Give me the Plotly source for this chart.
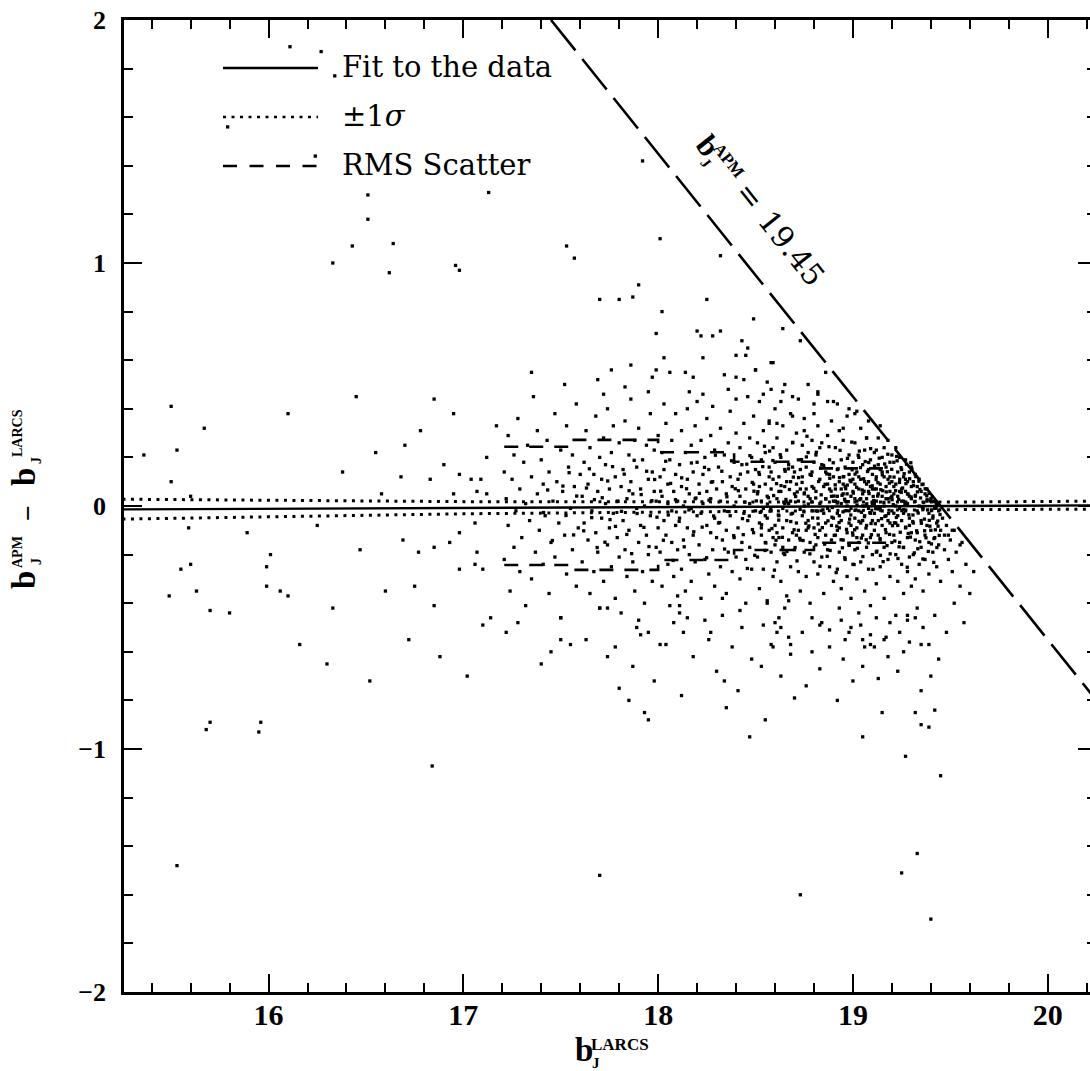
import plotly.graph_objects as go

# ---------------- data ----------------
X_RANGE = [15.258, 20.217]
Y_RANGE = [-2.0, 2.0]
x_major_ticks = [16, 17, 18, 19, 20]
y_major_ticks = [-2, -1, 0, 1, 2]

# sparse points and outliers (bJ_LARCS, bJ_APM - bJ_LARCS)
pts_outer = [
    (16.11, 1.89), (16.27, 1.87), (16.34, 1.77), (15.79, 1.56), (16.24, 1.44), (16.51, 1.28),
    (16.51, 1.18), (16.43, 1.07), (16.64, 1.08), (16.33, 1.00), (16.62, 0.96), (16.96, 0.99),
    (16.98, 0.97), (17.13, 1.29), (17.53, 1.07), (17.57, 1.02), (17.92, 1.42), (18.01, 1.10),
    (18.32, 1.03), (17.90, 0.91), (17.70, 0.85), (17.80, 0.85), (17.87, 0.86), (18.25, 0.85),
    (18.02, 0.80), (18.49, 0.77), (18.64, 0.73), (18.73, 0.68), (17.99, 0.71), (18.20, 0.72),
    (18.22, 0.70), (18.28, 0.70), (18.32, 0.72), (18.43, 0.68), (18.46, 0.65), (18.40, 0.62),
    (18.45, 0.62), (18.58, 0.59), (18.03, 0.61), (18.23, 0.61), (17.76, 0.56), (17.86, 0.58),
    (17.99, 0.56), (18.14, 0.55), (18.18, 0.53), (18.34, 0.54), (18.40, 0.53), (18.50, 0.56),
    (15.50, 0.41), (15.67, 0.32), (15.36, 0.21), (15.53, 0.23), (15.50, 0.10), (15.60, 0.04),
    (16.10, 0.38), (15.59, -0.09), (15.89, -0.11), (16.01, -0.20), (15.99, -0.25), (15.60, -0.24),
    (15.55, -0.26), (15.99, -0.33), (16.06, -0.35), (16.10, -0.37), (15.49, -0.37), (15.63, -0.35),
    (15.70, -0.43), (15.80, -0.44), (15.70, -0.89), (15.68, -0.92), (15.96, -0.89), (15.95, -0.93),
    (15.53, -1.48),
    (16.25, -0.08), (16.38, 0.14), (16.47, -0.18), (16.55, 0.22), (16.60, -0.35), (16.33, -0.42),
    (16.16, -0.57), (16.30, -0.65), (16.52, -0.72), (16.84, -1.07), (16.45, 0.45), (16.58, 0.05),
    (16.75, -0.33), (16.85, -0.41), (17.10, -0.49), (17.14, -0.46), (16.70, 0.25), (16.90, 0.17),
    (16.98, 0.13), (17.04, 0.11), (17.09, 0.11), (16.83, 0.11), (16.68, 0.12), (17.12, 0.20),
    (16.95, 0.05), (17.07, 0.06), (17.12, 0.05), (16.98, -0.11), (17.06, -0.07), (16.69, -0.14),
    (16.77, -0.19), (16.85, -0.17), (16.93, -0.15), (17.07, -0.19), (16.98, -0.26), (17.06, -0.24),
    (17.10, -0.26), (16.78, 0.31), (16.85, 0.44), (16.95, 0.38), (17.17, 0.33), (16.88, -0.62),
    (17.02, -0.70), (16.72, -0.55),
    (17.70, -1.52), (18.73, -1.60), (19.25, -1.51), (19.33, -1.43), (19.40, -1.70), (19.32, -0.85),
    (19.42, -0.84), (19.35, -0.90), (19.39, -0.91), (19.27, -1.03), (19.45, -1.11), (17.50, -0.46),
    (17.55, -0.57), (17.50, -0.55), (17.70, -0.42), (17.74, -0.42), (17.90, -0.47), (17.89, -0.50),
    (17.95, -0.52), (18.04, -0.57), (18.11, -0.41), (18.15, -0.46), (18.27, -0.52), (18.33, -0.38),
    (18.42, -0.43), (18.56, -0.40), (18.63, -0.50), (18.67, -0.39), (18.60, -0.48), (18.61, -0.52),
    (18.65, -0.42), (18.79, -0.46), (18.83, -0.49), (18.88, -0.51), (18.98, -0.52), (19.05, -0.55),
    (19.09, -0.57), (19.17, -0.54), (19.28, -0.45), (19.32, -0.46), (19.35, -0.57), (18.59, -0.58),
    (18.68, -0.57), (18.12, -0.78), (18.35, -0.83), (18.55, -0.88), (18.92, -0.80), (19.05, -0.95),
    (19.15, -0.85), (18.47, -0.95), (17.80, -0.75), (17.95, -0.88), (18.70, -0.79), (19.00, -0.72),
    (18.59, 0.59), (18.50, 0.56), (18.65, 0.50), (18.54, 0.46), (18.58, 0.48), (18.63, 0.43),
    (18.82, 0.46), (18.87, 0.43), (18.80, 0.38), (18.69, 0.37), (19.01, 0.38), (18.57, 0.34),
    (18.61, 0.34), (18.75, 0.31), (18.95, 0.32), (19.07, 0.28), (19.12, 0.23),
    (19.51, -0.10), (19.55, -0.16), (19.49, -0.12),
]

pts_172_176 = [
    (17.21, 0.14), (17.21, -0.22), (17.22, 0.03), (17.23, -0.08), (17.23, 0.29), (17.24, -0.35),
    (17.25, 0.11), (17.26, -0.17), (17.26, 0.21), (17.27, -0.02), (17.28, 0.36), (17.29, -0.27),
    (17.29, 0.07), (17.30, -0.13), (17.31, 0.18), (17.32, -0.41), (17.32, 0.01), (17.33, 0.25),
    (17.34, -0.06), (17.35, 0.12), (17.35, -0.30), (17.36, 0.45), (17.37, -0.19), (17.38, 0.05),
    (17.38, 0.31), (17.39, -0.10), (17.40, 0.19), (17.41, -0.24), (17.41, 0.09), (17.42, -0.04),
    (17.43, 0.27), (17.44, -0.36), (17.44, 0.14), (17.45, -0.15), (17.46, 0.02), (17.47, 0.38),
    (17.47, -0.21), (17.48, 0.10), (17.49, -0.07), (17.50, 0.23), (17.50, -0.46), (17.51, 0.06),
    (17.52, -0.12), (17.53, 0.33), (17.53, -0.28), (17.54, 0.16), (17.55, -0.01), (17.56, 0.21),
    (17.56, -0.18), (17.57, 0.08), (17.58, -0.33), (17.58, 0.42), (17.59, -0.09), (17.60, 0.13),
    (17.22, -0.52), (17.35, 0.55), (17.45, -0.60), (17.52, 0.50), (17.28, -0.48), (17.40, -0.65),
]

pts_176_180 = [
    (17.61, 0.04), (17.61, -0.23), (17.62, 0.18), (17.62, -0.07), (17.63, 0.31), (17.64, -0.14),
    (17.64, 0.09), (17.65, -0.36), (17.65, 0.24), (17.66, -0.02), (17.67, 0.13), (17.67, -0.27),
    (17.68, 0.37), (17.68, -0.11), (17.69, 0.06), (17.69, -0.19), (17.70, 0.20), (17.70, -0.42),
    (17.71, 0.11), (17.71, -0.05), (17.72, 0.28), (17.72, -0.31), (17.73, 0.01), (17.73, 0.17),
    (17.74, -0.16), (17.74, 0.40), (17.75, -0.09), (17.75, 0.07), (17.76, -0.25), (17.76, 0.22),
    (17.77, -0.03), (17.77, 0.33), (17.78, -0.38), (17.78, 0.12), (17.79, -0.13), (17.79, 0.02),
    (17.80, 0.26), (17.80, -0.21), (17.81, 0.08), (17.81, -0.44), (17.82, 0.15), (17.82, -0.06),
    (17.83, 0.35), (17.83, -0.18), (17.84, 0.03), (17.84, -0.29), (17.85, 0.21), (17.85, -0.10),
    (17.86, 0.10), (17.86, 0.44), (17.87, -0.23), (17.87, 0.05), (17.88, -0.35), (17.88, 0.27),
    (17.89, -0.01), (17.89, 0.16), (17.90, -0.15), (17.90, 0.32), (17.91, -0.08), (17.91, 0.07),
    (17.92, -0.27), (17.92, 0.19), (17.93, 0.00), (17.93, -0.40), (17.94, 0.25), (17.94, -0.12),
    (17.95, 0.11), (17.95, -0.20), (17.96, 0.38), (17.96, -0.04), (17.97, 0.14), (17.97, -0.31),
    (17.98, 0.06), (17.98, 0.23), (17.99, -0.17), (17.99, 0.02), (18.00, -0.09), (18.00, 0.29),
    (17.63, -0.55), (17.69, 0.52), (17.74, -0.62), (17.78, -0.58), (17.83, 0.49), (17.87, -0.66),
    (17.91, -0.53), (17.95, 0.47), (17.98, -0.72), (17.72, 0.46), (17.85, -0.80), (17.93, -0.85),
    (17.97, 0.53),
]

pts_180_185 = [
    (18.01, 0.12), (18.01, -0.19), (18.02, 0.04), (18.02, -0.33), (18.02, 0.22), (18.03, -0.06),
    (18.03, 0.15), (18.04, -0.12), (18.04, 0.34), (18.05, 0.01), (18.05, -0.24), (18.05, 0.09),
    (18.06, -0.41), (18.06, 0.19), (18.07, -0.02), (18.07, 0.27), (18.07, -0.15), (18.08, 0.06),
    (18.08, -0.29), (18.09, 0.13), (18.09, -0.08), (18.09, 0.38), (18.10, -0.18), (18.10, 0.02),
    (18.03, 0.42), (18.08, -0.48), (18.01, -0.57), (18.06, 0.55), (18.10, -0.37),
    (18.11, 0.17), (18.11, -0.05), (18.12, 0.08), (18.12, -0.26), (18.12, 0.31), (18.13, -0.14),
    (18.13, 0.00), (18.14, 0.22), (18.14, -0.35), (18.15, 0.11), (18.15, -0.09), (18.15, 0.40),
    (18.16, -0.20), (18.16, 0.05), (18.17, -0.01), (18.17, 0.25), (18.17, -0.31), (18.18, 0.14),
    (18.18, -0.12), (18.19, 0.03), (18.19, 0.33), (18.19, -0.23), (18.20, -0.04), (18.20, 0.18),
    (18.13, -0.52), (18.16, 0.47), (18.18, -0.62), (18.11, -0.44), (18.20, 0.43),
    (18.21, 0.09), (18.21, -0.16), (18.22, 0.27), (18.22, -0.03), (18.22, -0.38), (18.23, 0.13),
    (18.23, 0.01), (18.24, -0.22), (18.24, 0.20), (18.25, -0.08), (18.25, 0.36), (18.25, 0.06),
    (18.26, -0.28), (18.26, 0.15), (18.27, -0.11), (18.27, 0.03), (18.27, 0.29), (18.28, -0.18),
    (18.28, 0.10), (18.29, -0.05), (18.29, 0.23), (18.29, -0.33), (18.30, 0.07), (18.30, -0.13),
    (18.23, 0.46), (18.26, -0.55), (18.28, 0.41), (18.24, -0.47), (18.30, -0.68),
    (18.31, 0.16), (18.31, -0.07), (18.32, 0.02), (18.32, -0.25), (18.32, 0.32), (18.33, -0.14),
    (18.33, 0.10), (18.34, -0.02), (18.34, 0.21), (18.35, -0.36), (18.35, 0.05), (18.35, -0.10),
    (18.36, 0.26), (18.36, -0.19), (18.37, 0.12), (18.37, -0.04), (18.37, 0.39), (18.38, -0.27),
    (18.38, 0.08), (18.39, -0.13), (18.39, 0.18), (18.39, 0.00), (18.40, -0.21), (18.40, 0.30),
    (18.33, -0.45), (18.36, 0.48), (18.38, -0.58), (18.34, -0.72), (18.40, 0.44),
    (18.41, 0.11), (18.41, -0.09), (18.42, 0.24), (18.42, -0.30), (18.42, 0.04), (18.43, -0.15),
    (18.43, 0.17), (18.44, -0.03), (18.44, 0.34), (18.45, -0.22), (18.45, 0.07), (18.45, -0.40),
    (18.46, 0.14), (18.46, -0.06), (18.47, 0.28), (18.47, 0.01), (18.47, -0.17), (18.48, 0.20),
    (18.48, -0.26), (18.49, 0.09), (18.49, -0.11), (18.49, 0.37), (18.50, -0.02), (18.50, 0.15),
    (18.43, -0.50), (18.46, 0.45), (18.48, -0.63), (18.44, 0.52), (18.41, -0.76),
]

pts_185_189 = [
    (18.51, 0.05), (18.51, -0.21), (18.51, 0.26), (18.52, -0.07), (18.52, 0.13), (18.52, -0.34),
    (18.53, 0.02), (18.53, 0.19), (18.53, -0.12), (18.54, 0.31), (18.54, -0.01), (18.54, -0.26),
    (18.55, 0.09), (18.55, -0.15), (18.55, 0.22), (18.56, -0.05), (18.56, 0.04), (18.56, -0.39),
    (18.57, 0.16), (18.57, -0.10), (18.57, 0.35), (18.58, -0.19), (18.58, 0.07), (18.58, -0.02),
    (18.59, 0.24), (18.59, -0.29), (18.59, 0.11), (18.60, -0.08), (18.60, 0.18), (18.60, -0.16),
    (18.52, 0.43), (18.54, -0.49), (18.56, 0.51), (18.58, -0.57), (18.60, 0.40), (18.53, -0.66),
    (18.61, 0.03), (18.61, -0.23), (18.61, 0.28), (18.62, -0.04), (18.62, 0.12), (18.62, -0.13),
    (18.63, 0.20), (18.63, -0.31), (18.63, 0.06), (18.64, -0.09), (18.64, 0.33), (18.64, -0.01),
    (18.65, 0.15), (18.65, -0.20), (18.65, 0.08), (18.66, -0.37), (18.66, 0.23), (18.66, -0.06),
    (18.67, 0.01), (18.67, 0.17), (18.67, -0.14), (18.68, 0.38), (18.68, -0.25), (18.68, 0.10),
    (18.69, -0.03), (18.69, 0.26), (18.69, -0.11), (18.70, 0.05), (18.70, -0.18), (18.70, 0.14),
    (18.62, -0.46), (18.64, 0.47), (18.67, -0.54), (18.69, 0.45), (18.63, -0.70), (18.68, -0.61),
    (18.71, 0.09), (18.71, -0.07), (18.71, 0.30), (18.72, -0.27), (18.72, 0.02), (18.72, 0.19),
    (18.73, -0.14), (18.73, 0.07), (18.73, -0.35), (18.74, 0.25), (18.74, -0.04), (18.74, 0.12),
    (18.75, -0.19), (18.75, 0.00), (18.75, 0.36), (18.76, -0.10), (18.76, 0.16), (18.76, -0.29),
    (18.77, 0.04), (18.77, 0.22), (18.77, -0.06), (18.78, -0.40), (18.78, 0.13), (18.78, -0.15),
    (18.79, 0.27), (18.79, -0.02), (18.79, 0.08), (18.80, -0.23), (18.80, 0.18), (18.80, -0.09),
    (18.72, 0.44), (18.74, -0.52), (18.77, 0.50), (18.79, -0.60), (18.76, -0.74), (18.80, 0.42),
    (18.81, 0.06), (18.81, -0.16), (18.81, 0.21), (18.82, -0.05), (18.82, 0.33), (18.82, -0.28),
    (18.83, 0.11), (18.83, -0.10), (18.83, 0.01), (18.84, 0.17), (18.84, -0.21), (18.84, 0.26),
    (18.85, -0.03), (18.85, 0.08), (18.85, -0.36), (18.86, 0.14), (18.86, -0.12), (18.86, 0.03),
    (18.87, 0.29), (18.87, -0.18), (18.87, -0.01), (18.88, 0.19), (18.88, -0.25), (18.88, 0.07),
    (18.89, -0.08), (18.89, 0.35), (18.89, -0.14), (18.90, 0.12), (18.90, -0.31), (18.90, 0.02),
    (18.82, 0.47), (18.84, -0.48), (18.86, 0.55), (18.88, -0.58), (18.83, -0.67), (18.90, 0.43),
    (18.52, 0.08), (18.55, -0.04), (18.57, 0.12), (18.59, -0.13), (18.62, 0.06), (18.64, -0.17),
    (18.66, 0.10), (18.68, 0.02), (18.71, -0.12), (18.73, 0.15), (18.75, 0.05), (18.77, -0.09),
    (18.79, 0.14), (18.81, -0.02), (18.83, 0.24), (18.85, 0.16), (18.87, 0.09), (18.89, 0.04),
    (18.53, -0.09), (18.58, 0.14), (18.61, -0.11), (18.65, 0.01), (18.69, 0.16), (18.72, -0.10),
    (18.76, 0.07), (18.78, 0.03), (18.82, -0.13), (18.86, -0.07), (18.88, 0.13), (18.90, -0.05),
]

pts_189_193 = [
    (18.91, 0.07), (18.91, -0.12), (18.91, 0.24), (18.92, -0.03), (18.92, 0.15), (18.92, -0.26),
    (18.92, 0.04), (18.93, -0.09), (18.93, 0.31), (18.93, 0.10), (18.93, -0.19), (18.94, 0.01),
    (18.94, 0.19), (18.94, -0.06), (18.94, -0.34), (18.95, 0.12), (18.95, -0.14), (18.95, 0.27),
    (18.95, 0.05), (18.96, -0.02), (18.96, -0.22), (18.96, 0.16), (18.96, 0.08), (18.97, -0.11),
    (18.97, 0.37), (18.97, 0.00), (18.97, -0.29), (18.98, 0.13), (18.98, -0.07), (18.98, 0.21),
    (18.98, -0.16), (18.99, 0.04), (18.99, -0.38), (18.99, 0.10), (18.99, -0.01), (19.00, 0.18),
    (19.00, -0.12), (19.00, 0.06), (19.00, -0.24),
    (18.92, 0.42), (18.94, -0.47), (18.96, -0.55), (18.98, 0.40), (18.95, -0.63), (18.99, -0.50),
    (18.93, -0.42),
    (19.01, 0.09), (19.01, -0.05), (19.01, 0.26), (19.01, -0.18), (19.02, 0.02), (19.02, 0.14),
    (19.02, -0.30), (19.02, -0.09), (19.03, 0.20), (19.03, -0.02), (19.03, 0.07), (19.03, -0.15),
    (19.04, 0.32), (19.04, -0.07), (19.04, 0.11), (19.04, -0.23), (19.05, 0.00), (19.05, 0.17),
    (19.05, -0.12), (19.05, 0.05), (19.06, -0.35), (19.06, 0.23), (19.06, -0.04), (19.06, 0.10),
    (19.07, -0.17), (19.07, 0.03), (19.07, 0.28), (19.07, -0.08), (19.08, 0.15), (19.08, -0.26),
    (19.08, 0.06), (19.08, -0.01), (19.09, 0.19), (19.09, -0.13), (19.09, 0.08), (19.09, -0.41),
    (19.10, 0.01), (19.10, 0.13), (19.10, -0.20), (19.10, -0.06),
    (19.02, 0.39), (19.04, -0.49), (19.06, -0.58), (19.08, 0.35), (19.05, -0.66), (19.09, -0.53),
    (19.03, -0.44),
    (19.11, 0.07), (19.11, -0.10), (19.11, 0.22), (19.11, -0.03), (19.12, 0.12), (19.12, -0.19),
    (19.12, 0.02), (19.12, -0.32), (19.13, 0.17), (19.13, -0.06), (19.13, 0.28), (19.13, 0.05),
    (19.14, -0.14), (19.14, 0.09), (19.14, -0.01), (19.14, -0.25), (19.15, 0.20), (19.15, -0.08),
    (19.15, 0.04), (19.15, 0.14), (19.16, -0.17), (19.16, 0.00), (19.16, -0.38), (19.16, 0.24),
    (19.17, 0.08), (19.17, -0.11), (19.17, 0.16), (19.17, -0.04), (19.18, 0.03), (19.18, -0.22),
    (19.18, 0.11), (19.18, 0.27), (19.19, -0.07), (19.19, 0.06), (19.19, -0.29), (19.19, 0.18),
    (19.20, -0.02), (19.20, 0.10), (19.20, -0.15), (19.20, 0.21),
    (19.12, -0.46), (19.14, 0.33), (19.16, -0.55), (19.18, -0.62), (19.13, -0.71), (19.19, -0.48),
    (19.11, -0.58),
    (19.21, 0.05), (19.21, -0.12), (19.21, 0.18), (19.21, -0.03), (19.22, 0.09), (19.22, -0.20),
    (19.22, 0.24), (19.22, 0.00), (19.23, -0.08), (19.23, 0.14), (19.23, -0.31), (19.23, 0.04),
    (19.24, -0.15), (19.24, 0.11), (19.24, -0.01), (19.24, 0.20), (19.25, -0.24), (19.25, 0.07),
    (19.25, -0.06), (19.25, 0.15), (19.26, 0.02), (19.26, -0.17), (19.26, 0.12), (19.26, -0.36),
    (19.27, 0.06), (19.27, -0.09), (19.27, 0.19), (19.27, -0.02), (19.28, -0.27), (19.28, 0.10),
    (19.28, 0.01), (19.28, -0.13), (19.29, 0.14), (19.29, -0.05), (19.29, 0.04), (19.29, -0.21),
    (19.30, 0.08), (19.30, -0.11), (19.30, 0.16), (19.30, -0.33),
    (19.22, -0.45), (19.24, -0.52), (19.26, -0.60), (19.28, -0.47), (19.23, -0.68), (19.29, -0.56),
    (18.91, 0.02), (18.93, -0.04), (18.95, 0.09), (18.97, 0.05), (18.99, -0.08), (19.01, 0.03),
    (19.03, 0.12), (19.05, -0.06), (19.07, 0.09), (19.09, -0.03), (19.11, 0.01), (19.13, -0.12),
    (19.15, -0.02), (19.17, 0.03), (19.19, 0.12), (19.21, 0.08), (19.23, -0.04), (19.25, 0.02),
    (19.27, 0.11), (19.29, -0.08), (18.92, -0.10), (18.96, 0.02), (19.00, 0.11), (19.04, 0.03),
    (19.08, 0.10), (19.12, 0.07), (19.16, 0.12), (19.20, 0.04), (19.24, 0.06), (19.28, 0.05),
    (18.94, 0.07), (18.98, -0.02), (19.02, -0.13), (19.06, 0.00), (19.10, 0.07), (19.14, 0.15),
    (19.18, -0.06), (19.22, -0.07), (19.26, -0.03), (19.30, 0.03),
]

pts_193_196 = [
    (19.31, 0.10), (19.31, -0.07), (19.31, -0.20), (19.32, 0.04), (19.32, -0.14), (19.32, 0.13),
    (19.32, -0.30), (19.33, -0.02), (19.33, 0.08), (19.33, -0.11), (19.34, 0.11), (19.34, -0.24),
    (19.34, 0.00), (19.35, -0.06), (19.35, 0.06), (19.35, -0.17), (19.36, 0.09), (19.36, -0.35),
    (19.36, -0.01), (19.37, -0.12), (19.37, 0.05), (19.37, -0.22), (19.38, 0.02), (19.38, -0.08),
    (19.38, 0.07), (19.39, -0.15), (19.39, -0.03), (19.39, -0.28), (19.40, 0.03), (19.40, -0.10),
    (19.41, -0.05), (19.41, -0.19), (19.41, 0.02), (19.42, -0.13), (19.42, -0.01), (19.43, -0.25),
    (19.43, -0.07), (19.44, -0.02), (19.44, -0.16), (19.45, -0.10), (19.45, -0.31), (19.46, -0.05),
    (19.47, -0.18), (19.47, -0.12), (19.48, -0.08), (19.49, -0.22), (19.50, -0.14), (19.51, -0.27),
    (19.52, -0.10), (19.53, -0.19), (19.55, -0.33), (19.56, -0.15), (19.58, -0.24),
    (19.33, -0.42), (19.36, -0.50), (19.39, -0.57), (19.42, -0.45), (19.44, -0.63), (19.48, -0.52),
    (19.40, -0.70), (19.35, -0.76), (19.52, -0.40), (19.57, -0.48), (19.62, -0.27), (19.60, -0.36),
]

# the crowded core of the distribution
pts_core = [
    (18.412, 0.063), (18.437, -0.118), (18.455, 0.172), (18.468, -0.041), (18.483, 0.097),
    (18.496, -0.203), (18.504, 0.021), (18.517, 0.138), (18.531, -0.077), (18.546, 0.246),
    (18.553, -0.152), (18.566, 0.034), (18.578, -0.011), (18.589, 0.187), (18.597, -0.264),
    (18.608, 0.092), (18.619, -0.058), (18.627, 0.211), (18.638, -0.129), (18.645, 0.016),
    (18.652, 0.143), (18.661, -0.187), (18.674, 0.068), (18.683, -0.033), (18.691, 0.262),
    (18.698, -0.098), (18.706, 0.039), (18.713, -0.226), (18.721, 0.117), (18.729, -0.014),
    (18.736, 0.191), (18.744, -0.142), (18.751, 0.054), (18.758, -0.071), (18.764, 0.287),
    (18.771, 0.008), (18.779, -0.197), (18.786, 0.126), (18.793, -0.049), (18.799, 0.073),
    (18.806, -0.117), (18.812, 0.221), (18.818, -0.021), (18.824, 0.101), (18.831, -0.248),
    (18.837, 0.046), (18.843, -0.089), (18.849, 0.167), (18.855, -0.157), (18.861, 0.029),
    (18.866, 0.132), (18.872, -0.061), (18.877, 0.244), (18.883, -0.183), (18.888, 0.061),
    (18.894, -0.006), (18.899, 0.178), (18.904, -0.121), (18.909, 0.087), (18.914, -0.274),
    (18.919, 0.012), (18.924, 0.153), (18.929, -0.068), (18.934, 0.229), (18.939, -0.139),
    (18.944, 0.044), (18.949, -0.024), (18.953, 0.121), (18.958, -0.213), (18.963, 0.071),
    (18.967, -0.096), (18.972, 0.196), (18.976, 0.018), (18.981, -0.162), (18.985, 0.106),
    (18.989, -0.037), (18.994, 0.263), (18.998, -0.111), (19.002, 0.053), (19.006, -0.241),
    (19.011, 0.131), (19.015, -0.016), (19.019, 0.077), (19.023, -0.174), (19.027, 0.209),
    (19.031, -0.063), (19.035, 0.026), (19.039, 0.158), (19.043, -0.132), (19.047, 0.066),
    (19.051, -0.208), (19.055, 0.112), (19.059, -0.044), (19.063, 0.183), (19.067, -0.091),
    (19.071, 0.009), (19.075, 0.142), (19.079, -0.152), (19.083, 0.051), (19.087, -0.027),
    (19.091, 0.236), (19.095, -0.118), (19.099, 0.083), (19.103, -0.261), (19.107, 0.022),
    (19.111, 0.164), (19.115, -0.073), (19.119, 0.109), (19.123, -0.186), (19.127, 0.041),
    (19.131, -0.012), (19.135, 0.197), (19.139, -0.134), (19.143, 0.067), (19.147, -0.052),
    (19.151, 0.128), (19.155, -0.229), (19.159, 0.015), (19.163, 0.173), (19.167, -0.097),
    (19.171, 0.058), (19.175, -0.163), (19.179, 0.213), (19.183, -0.031), (19.187, 0.094),
    (19.191, -0.197), (19.195, 0.034), (19.199, 0.151), (19.203, -0.081), (19.207, 0.006),
    (19.211, 0.119), (19.215, -0.144), (19.219, 0.063), (19.223, -0.047), (19.227, 0.186),
    (19.231, -0.216), (19.235, 0.027), (19.239, 0.097), (19.243, -0.108), (19.247, 0.158),
    (19.251, -0.019), (19.255, 0.074), (19.259, -0.171), (19.263, 0.133), (19.267, 0.011),
    (19.271, -0.087), (19.275, 0.172), (19.279, -0.252), (19.283, 0.049), (19.287, -0.036),
    (19.291, 0.112), (19.295, -0.128), (19.299, 0.037), (19.303, 0.152), (19.307, -0.064),
    (19.311, 0.084), (19.315, -0.193), (19.319, 0.019), (19.323, 0.121), (19.327, -0.102),
    (19.331, 0.058), (19.335, -0.029), (19.339, 0.102), (19.343, -0.147), (19.347, 0.033),
    (19.351, -0.071), (19.355, 0.088), (19.359, -0.218), (19.363, 0.014), (19.367, -0.054),
    (19.371, 0.071), (19.375, -0.131), (19.379, 0.042), (19.383, -0.016), (19.387, -0.187),
    (19.391, 0.052), (19.395, -0.083), (19.399, 0.021), (19.403, -0.156), (19.407, 0.037),
    (19.411, -0.041), (19.415, -0.232), (19.419, 0.018), (19.423, -0.098), (19.427, -0.009),
    (19.431, -0.171), (19.435, -0.062), (19.439, 0.004), (19.443, -0.121), (19.447, -0.035),
    (18.903, 0.041), (18.917, -0.083), (18.931, 0.117), (18.946, -0.172), (18.957, 0.028),
    (18.971, 0.086), (18.983, -0.054), (18.996, 0.149), (19.009, -0.098), (19.021, 0.004),
    (19.033, 0.226), (19.044, -0.026), (19.057, 0.061), (19.068, -0.139), (19.081, 0.179),
    (19.093, -0.072), (19.104, 0.039), (19.117, -0.011), (19.128, 0.096), (19.141, -0.203),
    (19.153, 0.063), (19.164, -0.043), (19.177, 0.141), (19.188, -0.117), (19.201, 0.026),
    (19.213, -0.069), (19.224, 0.204), (19.237, -0.168), (19.248, 0.056), (19.261, -0.015),
    (19.272, 0.092), (19.284, -0.113), (19.297, 0.178), (19.308, -0.037), (19.321, 0.044),
    (19.333, -0.176), (19.344, 0.068), (19.357, -0.006), (19.368, -0.102), (19.381, 0.026),
    (19.392, -0.059), (19.404, -0.019), (19.416, -0.134), (19.428, 0.009), (19.437, -0.083),
    (18.809, 0.033), (18.822, -0.074), (18.834, 0.156), (18.846, -0.016), (18.857, 0.089),
    (18.868, -0.207), (18.881, 0.114), (18.892, -0.046), (18.714, 0.058), (18.727, -0.133),
    (18.739, 0.097), (18.748, -0.024), (18.761, 0.202), (18.774, -0.082), (18.788, 0.017),
    (18.617, -0.037), (18.631, 0.084), (18.643, -0.194), (18.656, 0.027), (18.669, 0.153),
    (18.681, -0.064), (18.694, 0.119), (18.703, -0.171), (18.512, 0.059), (18.524, -0.026),
    (18.537, 0.162), (18.549, -0.183), (18.561, 0.008), (18.572, 0.226), (18.584, -0.093),
    (18.593, 0.043), (18.605, -0.141), (18.422, 0.131), (18.433, -0.052), (18.446, 0.016),
    (18.458, -0.257), (18.471, 0.207), (18.484, -0.097), (18.492, 0.061), (18.316, -0.068),
    (18.327, 0.143), (18.341, -0.177), (18.353, 0.038), (18.364, -0.023), (18.377, 0.186),
    (18.388, -0.122), (18.396, 0.071), (18.212, 0.052), (18.226, -0.087), (18.238, 0.159),
    (18.249, -0.213), (18.261, 0.024), (18.273, 0.098), (18.285, -0.041), (18.294, 0.209),
    (18.108, -0.063), (18.121, 0.116), (18.134, -0.168), (18.146, 0.071), (18.158, -0.016),
    (18.171, 0.177), (18.183, -0.106), (18.194, 0.033), (18.013, 0.061), (18.027, -0.141),
    (18.039, 0.184), (18.052, -0.037), (18.064, 0.093), (18.077, -0.224), (18.089, 0.026),
    (17.913, 0.047), (17.927, -0.088), (17.941, 0.143), (17.953, -0.167), (17.968, 0.022),
    (17.982, 0.109), (17.994, -0.046), (17.812, -0.022), (17.826, 0.131), (17.839, -0.117),
    (17.851, 0.063), (17.864, -0.196), (17.877, 0.188), (17.892, -0.031), (17.713, 0.034),
    (17.727, -0.149), (17.741, 0.103), (17.753, -0.056), (17.766, 0.162), (17.781, -0.084),
    (17.794, 0.019), (17.618, -0.102), (17.632, 0.074), (17.647, 0.153), (17.659, -0.048),
    (17.673, 0.026), (17.687, -0.171), (17.511, 0.082), (17.527, -0.039), (17.543, 0.137),
    (17.566, -0.119), (17.582, 0.041), (17.412, -0.027), (17.433, 0.066), (17.457, -0.142),
]

all_pts = (pts_outer + pts_172_176 + pts_176_180 + pts_180_185 + pts_185_189
           + pts_189_193 + pts_193_196 + pts_core)
bj_larcs = [p[0] for p in all_pts]
delta_bj = [p[1] for p in all_pts]

# linear fit and its +-1 sigma band
fit_x = [15.25, 20.25]
fit_y = [-0.014, 0.0025]
sigma_x = [15.25, 17.0, 19.5, 20.25]
sigma_hi = [0.028, 0.018, 0.016, 0.020]
sigma_lo = [-0.054, -0.032, -0.015, -0.013]

# binned RMS scatter (step function)
rms_edges = [17.21, 17.56, 18.00, 18.39, 18.80, 19.20]
rms_hi = [0.244, 0.272, 0.221, 0.182, 0.155]
rms_lo = [-0.243, -0.263, -0.222, -0.181, -0.151]

# magnitude limit bJ_APM = 19.45  ->  y = 19.45 - x
apm_limit = 19.45
limit_x = [apm_limit - 2.0, apm_limit + 2.0]
limit_y = [2.0, -2.0]

# ---------------- figure ----------------
W, H = 1090, 1071
ML, MR, MT, MB = 124, 0, 20, 79
PW, PH = W - ML - MR, H - MT - MB


def pp(px, py):
    """pixel position in the page -> paper coordinates"""
    return (px - ML) / PW, (H - MB - py) / PH


fig = go.Figure()

fig.add_trace(go.Scatter(x=bj_larcs, y=delta_bj, mode="markers",
                         marker=dict(symbol="square", size=3.3, color="black", line=dict(width=0)),
                         hoverinfo="skip"))
fig.add_trace(go.Scatter(x=fit_x, y=fit_y, mode="lines",
                         line=dict(color="black", width=2.4), hoverinfo="skip"))
for ys in (sigma_hi, sigma_lo):
    fig.add_trace(go.Scatter(x=sigma_x, y=ys, mode="lines",
                             line=dict(color="black", width=3, dash="3px,5.5px"), hoverinfo="skip"))
for vals in (rms_hi, rms_lo):
    fig.add_trace(go.Scatter(x=rms_edges, y=vals + [vals[-1]], mode="lines",
                             line=dict(color="black", width=2.6, dash="14px,11px", shape="hv"),
                             hoverinfo="skip"))
fig.add_trace(go.Scatter(x=limit_x, y=limit_y, mode="lines",
                         line=dict(color="black", width=2.6, dash="39px,11px"), hoverinfo="skip"))
# carrier for the right-hand tick axis
fig.add_trace(go.Scatter(x=[X_RANGE[0]], y=[0], yaxis="y2", mode="markers",
                         marker=dict(opacity=0), hoverinfo="skip"))

axis_common = dict(showgrid=False, zeroline=False, showline=True, linecolor="black", linewidth=2.5,
                   ticks="inside", ticklen=18, tickwidth=2, tickcolor="black")

fig.update_layout(
    width=W, height=H,
    margin=dict(l=ML, r=MR, t=MT, b=MB, pad=0),
    paper_bgcolor="white", plot_bgcolor="white",
    showlegend=False,
    xaxis=dict(range=X_RANGE, mirror="ticks", tickmode="array", tickvals=x_major_ticks,
               ticktext=[str(v) for v in x_major_ticks],
               minor=dict(ticks="inside", ticklen=9, tickwidth=2, tickcolor="black", dtick=0.2, tick0=0),
               tickfont=dict(family="Liberation Serif", size=30, color="black", weight="bold"),
               ticklabelstandoff=-6, **axis_common),
    yaxis=dict(range=Y_RANGE, mirror=False, tickmode="array", tickvals=y_major_ticks,
               ticktext=["\u22122", "\u22121", "0", "1", "2"],
               minor=dict(ticks="inside", ticklen=9, tickwidth=2, tickcolor="black", dtick=0.2, tick0=0),
               tickfont=dict(family="Liberation Serif", size=26, color="black", weight="bold"),
               ticklabelstandoff=10, **axis_common),
    yaxis2=dict(range=Y_RANGE, overlaying="y", side="right", showline=False, showgrid=False,
                zeroline=False, showticklabels=False, ticks="inside", ticklen=12, tickwidth=2,
                tickcolor="black", tickmode="array", tickvals=y_major_ticks,
                minor=dict(ticks="inside", ticklen=3, tickwidth=2, tickcolor="black", dtick=0.2, tick0=0)),
)

# ---- legend drawn by hand ----
leg_rows = [(68, "solid", "Fit to the data"), (117, "3px,5.5px", "\u00b11<i>\u03c3</i>"),
            (166, "14px,12.5px", "RMS Scatter")]
for py, dash, label in leg_rows:
    x0, y0 = pp(223, py)
    x1, _ = pp(318, py)
    fig.add_shape(type="line", xref="paper", yref="paper", x0=x0, x1=x1, y0=y0, y1=y0,
                  line=dict(color="black", width=2.6 if dash != "solid" else 2.4, dash=dash))
    tx, ty = pp(340, py - 1)
    fig.add_annotation(xref="paper", yref="paper", x=tx, y=ty, text=label, showarrow=False,
                       xanchor="left", yanchor="middle",
                       font=dict(family="DejaVu Serif", size=29, color="black"))

ann_font = "Liberation Serif"


def piece(px, py, text, size, angle=0, family=ann_font, weight="bold"):
    x, y = pp(px, py)
    fig.add_annotation(xref="paper", yref="paper", x=x, y=y, text=text, showarrow=False,
                       xanchor="center", yanchor="middle", textangle=angle,
                       font=dict(family=family, size=size, color="black", weight=weight))


# x-axis title  b_J^LARCS
piece(584, 1050, "b", 33)
piece(620, 1044, "LARCS", 17)
piece(596, 1063, "J", 15)

# y-axis title  b_J^APM - b_J^LARCS  (rotated)
piece(24, 580, "b", 33, -90)
piece(17, 552, "APM", 14, -90)
piece(36, 562, "J", 14, -90)
piece(27, 513, "\u2212", 28, -90)
piece(24, 477, "b", 33, -90)
piece(17, 433, "LARCS", 14, -90)
piece(36, 461, "J", 14, -90)

# label of the magnitude limit, along the dashed line
ang = 51.5
piece(708, 145, "b", 31, ang)
piece(729, 160, "APM", 17, ang)
piece(706, 163, "J", 15, ang)
piece(750, 195, "=", 30, ang, family="DejaVu Serif", weight="normal")
piece(792, 248, "19.45", 30, ang, family="DejaVu Serif", weight="normal")

fig.write_html("out.html", config={"displayModeBar": False})
